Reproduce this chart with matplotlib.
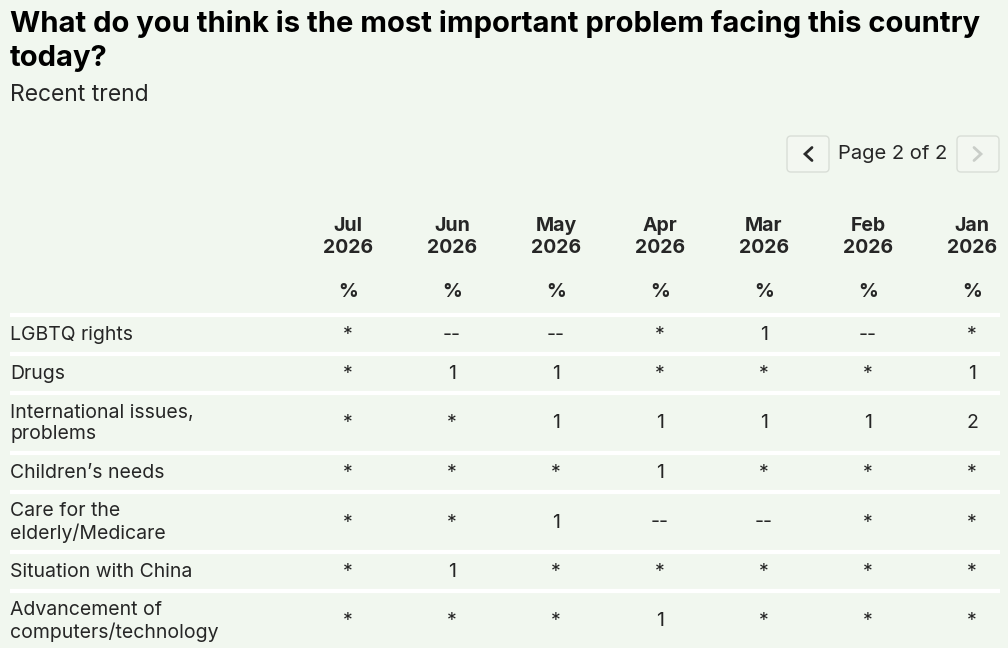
import matplotlib.pyplot as plt
from matplotlib.patches import FancyBboxPatch

# === Table data ===
months = ["Jul\n2026", "Jun\n2026", "May\n2026", "Apr\n2026", "Mar\n2026", "Feb\n2026", "Jan\n2026"]
problems = [
    "LGBTQ rights",
    "Drugs",
    "International issues,\nproblems",
    "Children\u2019s needs",
    "Care for the\nelderly/Medicare",
    "Situation with China",
    "Advancement of\ncomputers/technology",
]
lgbtq = ["*", "--", "--", "*", "1", "--", "*"]
drugs = ["*", "1", "1", "*", "*", "*", "1"]
international = ["*", "*", "1", "1", "1", "1", "2"]
children = ["*", "*", "*", "1", "*", "*", "*"]
elderly = ["*", "*", "1", "--", "--", "*", "*"]
china = ["*", "1", "*", "*", "*", "*", "*"]
technology = ["*", "*", "*", "1", "*", "*", "*"]
values = [lgbtq, drugs, international, children, elderly, china, technology]

title = "What do you think is the most important problem facing this country\ntoday?"
subtitle = "Recent trend"
page_text = "Page 2 of 2"

BG = "#f1f7ef"
TEXT = "#262626"
FONT = "Inter"

fig = plt.figure(figsize=(10.08, 6.48), dpi=100, facecolor=BG)
ax = fig.add_axes([0, 0, 1, 1])
ax.set_xlim(0, 1008)
ax.set_ylim(648, 0)
ax.axis("off")
ax.set_facecolor(BG)

# Title and subtitle
ax.text(10, 10, title, fontsize=21, fontweight="bold", family=FONT,
        color="#000000", va="top", linespacing=1.33)
ax.text(10, 95, subtitle, fontsize=16.5, family=FONT, color=TEXT, va="center")

# Pager
for x0 in (787, 957):
    box = FancyBboxPatch((x0, 136), 42, 36, boxstyle="round,pad=0,rounding_size=4",
                         facecolor="#f3f7f1", edgecolor="#d9ded7", lw=1.0)
    ax.add_patch(box)
cx = 808
ax.plot([cx + 4, cx - 3, cx + 4], [147.5, 154, 160.5], color="#2a2a2a", lw=2.0,
        solid_capstyle="round", solid_joinstyle="miter")
cx = 978
ax.plot([cx - 4, cx + 3, cx - 4], [147.5, 154, 160.5], color="#c9cdc8", lw=2.0,
        solid_capstyle="round", solid_joinstyle="miter")
ax.text(893, 154, page_text, fontsize=14.5, family=FONT, color=TEXT,
        ha="center", va="center")

# Column headers
col_x0, col_step = 348, 104
for i, m in enumerate(months):
    x = col_x0 + i * col_step
    ax.text(x, 237, m, fontsize=14, fontweight="bold", family=FONT, color=TEXT,
            ha="center", va="center", linespacing=1.22)
    ax.text(x, 292, "%", fontsize=14, fontweight="bold", family=FONT, color=TEXT,
            ha="center", va="center")

# Rows
y = 315
single_h, double_h = 39, 60
for label, row in zip(problems, values):
    ax.plot([10, 1000], [y, y], color="white", lw=3.0, solid_capstyle="butt")
    h = double_h if "\n" in label else single_h
    yc = y + h / 2 + 0.5
    ax.text(10, yc, label, fontsize=14, family=FONT, color=TEXT,
            ha="left", va="center", linespacing=1.2)
    for i, v in enumerate(row):
        ax.text(col_x0 + i * col_step, yc, v, fontsize=14, family=FONT,
                color=TEXT, ha="center", va="center")
    y += h

fig.savefig("out.png", dpi=100, facecolor=BG)
